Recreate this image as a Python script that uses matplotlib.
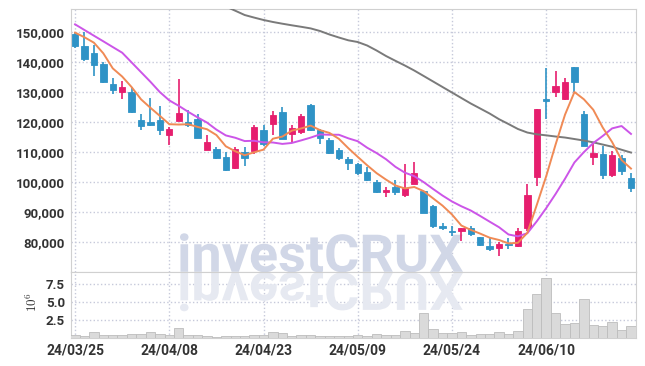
import matplotlib
matplotlib.use("Agg")
import matplotlib.pyplot as plt
import numpy as np
from matplotlib.textpath import TextPath
from matplotlib.patches import PathPatch
from matplotlib.font_manager import FontProperties
from matplotlib.transforms import Affine2D, IdentityTransform

# trading days (KRX)
dates = [
    "24/03/25", "24/03/26", "24/03/27", "24/03/28", "24/03/29",
    "24/04/01", "24/04/02", "24/04/03", "24/04/04", "24/04/05",
    "24/04/08", "24/04/09", "24/04/11", "24/04/12", "24/04/15",
    "24/04/16", "24/04/17", "24/04/18", "24/04/19", "24/04/22",
    "24/04/23", "24/04/24", "24/04/25", "24/04/26", "24/04/29",
    "24/04/30", "24/05/02", "24/05/03", "24/05/07", "24/05/08",
    "24/05/09", "24/05/10", "24/05/13", "24/05/14", "24/05/16",
    "24/05/17", "24/05/20", "24/05/21", "24/05/22", "24/05/23",
    "24/05/24", "24/05/27", "24/05/28", "24/05/29", "24/05/30",
    "24/05/31", "24/06/03", "24/06/04", "24/06/05", "24/06/07",
    "24/06/10", "24/06/11", "24/06/12", "24/06/13", "24/06/14",
    "24/06/17", "24/06/18", "24/06/19", "24/06/20", "24/06/21",
]

opens = [149300, 145200, 142900, 139350, 132600, 130050, 130000, 120650, 120000, 120650,
         115750, 120400, 120000, 121000, 110650, 111000, 108350, 104750, 110000, 110300,
         117300, 119400, 123200, 116100, 116750, 125650, 117300, 114000, 110650, 107750,
         106000, 103350, 100100, 96700, 98450, 95600, 99450, 97000, 92000, 85250,
         83800, 83800, 84800, 81700, 78750, 78100, 79500, 78600, 84850, 101800,
         127600, 130000, 127700, 138150, 122500, 108450, 109300, 102450, 107900, 101250]
highs = [149800, 149800, 145500, 139800, 134500, 133600, 131500, 122700, 127800, 125400,
         118400, 134200, 124000, 122500, 115500, 111800, 110100, 111800, 111600, 118900,
         118900, 123500, 124900, 118900, 122600, 126000, 117600, 114600, 111200, 108400,
         106500, 104900, 100600, 98400, 100600, 106000, 106700, 97100, 92300, 86400,
         85300, 84800, 85400, 81800, 81300, 80000, 81400, 84600, 99300, 124300,
         137800, 136900, 134700, 138200, 123600, 112700, 112100, 110200, 109000, 102900]
lows = [144500, 140300, 135200, 133100, 129200, 127700, 123000, 117300, 118700, 115800,
        112200, 120300, 118300, 114600, 110500, 107700, 103700, 104400, 105500, 109500,
        112000, 115500, 114300, 112900, 116000, 117100, 112600, 109400, 107500, 104000,
        102500, 100300, 96400, 95100, 95700, 94900, 99400, 89700, 84700, 84000,
        82000, 80400, 82200, 78800, 77000, 75400, 77900, 78400, 83800, 98700,
        121000, 128200, 127400, 130000, 112000, 105600, 100900, 101700, 102300, 96800]
closes = [145200, 140900, 139000, 133250, 130700, 131600, 123400, 118650, 119100, 117300,
          117750, 122850, 119100, 114750, 113400, 108100, 104100, 110900, 108100, 118300,
          112550, 122300, 114400, 117900, 122000, 117300, 114750, 109750, 108100, 106450,
          102900, 100700, 96700, 97350, 96700, 97950, 103100, 89800, 85350, 84600,
          83250, 84700, 82600, 79150, 77850, 79400, 79050, 83600, 95700, 124200,
          127100, 131950, 133150, 133350, 112100, 109650, 102450, 108900, 103550, 97900]
volume = [350000, 300000, 850000, 400000, 350000, 400000, 500000, 550000, 800000, 600000,
          450000, 1400000, 450000, 350000, 250000, 200000, 300000, 300000, 250000, 450000,
          400000, 850000, 700000, 300000, 350000, 400000, 300000, 250000, 250000, 300000,
          350000, 300000, 550000, 450000, 450000, 950000, 720000, 3550000, 1270000, 720000,
          720000, 820000, 450000, 550000, 550000, 820000, 550000, 960000, 4000000, 6150000,
          8330000, 3460000, 1950000, 2090000, 5460000, 1780000, 1640000, 2190000, 1130000, 1640000]

ma5 = [149700, 148150, 146350, 142800, 137810, 135090, 131590, 127520, 124690, 122010,
       119240, 119130, 119220, 118350, 117570, 115640, 111890, 110250, 108920, 109900,
       110790, 114430, 115130, 117090, 117830, 118780, 117270, 116340, 114380, 111270,
       108390, 105580, 102970, 100820, 98870, 97880, 98360, 96980, 94580, 92160,
       89220, 85540, 84100, 82860, 81510, 80740, 79610, 79810, 83120, 92390,
       101930, 112510, 122420, 129950, 127530, 124040, 118140, 113290, 107330, 104490]
ma10 = [152450, 150560, 148670, 146800, 144900, 143020, 139790, 136560, 133340, 129910,
        127165, 125360, 123370, 121520, 119790, 117440, 115510, 114735, 113635, 113735,
        113215, 113160, 112690, 113005, 113865, 114785, 115850, 115735, 115735, 114550,
        113585, 111425, 109655, 107600, 105070, 103135, 101970, 99975, 97700, 95515,
        93550, 91950, 90540, 88720, 86835, 84980, 82575, 81955, 82990, 86950,
        91335, 96060, 101115, 106535, 109960, 112985, 115325, 117855, 118640, 116010]
ma60 = [np.nan] * 16 + [
    158380, 156980, 155550, 154700,
    153900, 153230, 152660, 152130, 151630, 151100, 150230, 149070, 148070, 147140,
    146570, 145410, 143750, 141920, 140320, 138760, 137090, 135270, 133440, 131610,
    129780, 127950, 126120, 124460, 122790, 120900, 119300, 117650, 116470, 115880,
    115540, 115150, 114810, 114310, 113810, 113210, 112480, 111750, 110750, 109820]

price_ticks = [80000, 90000, 100000, 110000, 120000, 130000, 140000, 150000]
vol_ticks = [2.5e6, 5.0e6, 7.5e6]

UP = "#e61e6e"
DOWN = "#2f93c6"
GRID = "#c6c9da"
SPINE = "#d0d0d0"
TXT = "#333333"

plt.rcParams["font.family"] = ["Roboto", "DejaVu Sans"]
plt.rcParams["font.weight"] = "bold"

W, H = 645, 366
fig = plt.figure(figsize=(W / 100, H / 100), dpi=100)
ax = fig.add_axes([71.3 / W, 1 - 272.3 / H, (635.7 - 71.3) / W, (272.3 - 9.3) / H])
axv = fig.add_axes([71.3 / W, 1 - 338 / H, (635.7 - 71.3) / W, (338 - 272.3) / H], sharex=ax)

x = np.arange(len(dates))
o = np.array(opens)
c = np.array(closes)
up = c >= o
colors = np.where(up, UP, DOWN)
body_lo = np.minimum(o, c)
body_h = np.maximum(np.abs(c - o), 400)

ax.vlines(x, lows, highs, color=colors, lw=1.2, zorder=3)
ax.bar(x, body_h, width=0.68, bottom=body_lo, color=colors, edgecolor=colors, lw=0.6, zorder=3)

ax.plot(x, ma60, color="#7a7a7a", lw=1.4, zorder=4)
ax.plot(x, ma10, color="#cc55e8", lw=1.4, zorder=4)
ax.plot(x, ma5, color="#f08a55", lw=1.4, zorder=4)

axv.bar(x, volume, width=1.0, color="#dadada", edgecolor="#bdbdbd", lw=0.6, zorder=3)

ax.set_xlim(-0.4, 59.5)
ax.set_ylim(70000, 157450)
axv.set_ylim(0, 9.15e6)

xt = list(range(0, len(dates), 10))
for a in (ax, axv):
    a.set_axisbelow(True)
    a.grid(True, color=GRID, ls=":", lw=1.0)
    for s in a.spines.values():
        s.set_color(SPINE)
    a.tick_params(length=0, colors=TXT, labelsize=9.5)
    a.set_xticks(xt)

ax.set_yticks(price_ticks)
ax.set_yticklabels([f"{v:,}" for v in price_ticks])
ax.tick_params(axis="y", pad=4.5)
ax.tick_params(axis="x", labelbottom=False)
axv.set_yticks(vol_ticks)
axv.set_yticklabels(["2.5", "5.0", "7.5"])
axv.tick_params(axis="y", pad=4.5)
axv.tick_params(axis="x", pad=4, labelsize=10)
axv.set_xticklabels([dates[i] for i in xt])
fig.text(32 / W, 1 - 302 / H, r"$10^6$", rotation=90, ha="center", va="center",
         fontsize=9.5, color=TXT, math_fontfamily="cm")

# watermark with reflection
tp = TextPath((0, 0), "investCRUX", size=50, prop=FontProperties(family="Roboto", weight="bold"))
bb = tp.get_extents()
sx = (463 - 180) / bb.width
sy = 39.0 / bb.height
base = H - 272.3
t_main = Affine2D().translate(-bb.x0, -bb.y0).scale(sx, sy).translate(180, base)
t_refl = Affine2D().translate(-bb.x0, -bb.y0).scale(sx, -sy).translate(180, base)
ax.add_artist(PathPatch(tp, transform=t_main + IdentityTransform(), facecolor="#d1d7e7",
                        edgecolor="none", zorder=1, clip_on=False))
axv.add_artist(PathPatch(tp, transform=t_refl + IdentityTransform(), facecolor="#e6e9f1",
                         edgecolor="none", zorder=1, clip_on=False))

fig.savefig("out.png", dpi=100)
